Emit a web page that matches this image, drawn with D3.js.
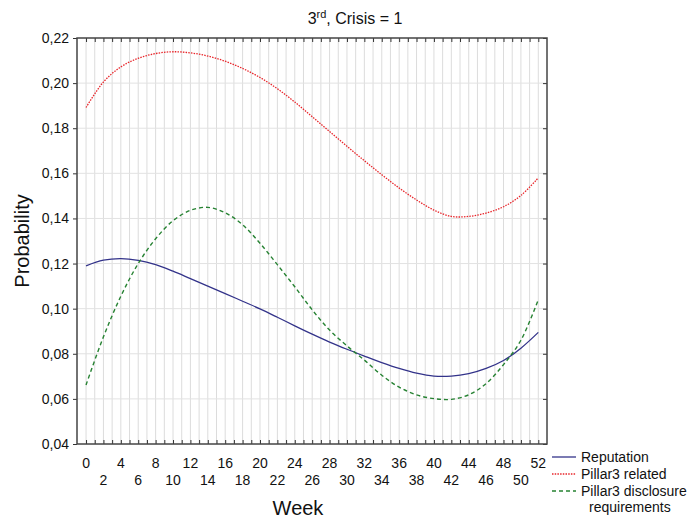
<!DOCTYPE html>
<html lang="en">
<head>
    <meta charset="UTF-8">
    <title>3rd, Crisis = 1</title>
    <style>
        * { margin: 0; padding: 0; }
        body { background: #fff; width: 693px; height: 521px; overflow: hidden; }
        svg text { font-family: "Liberation Sans", Arial, sans-serif; fill: #111; }
    </style>
</head>
<body>
<div id="chart"></div>
<script src="https://cdn.jsdelivr.net/npm/d3@7"></script>
<script>
    var weeks = [0, 2, 4, 6, 8, 10, 12, 14, 16, 18, 20, 22, 24, 26, 28, 30, 32, 34, 36, 38, 40, 42, 44, 46, 48, 50, 52];
    var reputation = [0.1190, 0.1215, 0.1222, 0.1214, 0.1195, 0.1166, 0.1133, 0.1100, 0.1067, 0.1033, 0.0999, 0.0962, 0.0924, 0.0887, 0.0852, 0.0820, 0.0790, 0.0761, 0.0735, 0.0714, 0.0701, 0.0701, 0.0712, 0.0735, 0.0770, 0.0825, 0.0895];
    var pillar3Related = [0.1892, 0.2005, 0.2072, 0.2110, 0.2131, 0.2139, 0.2134, 0.2120, 0.2097, 0.2065, 0.2025, 0.1975, 0.1916, 0.1851, 0.1785, 0.1720, 0.1656, 0.1594, 0.1535, 0.1482, 0.1437, 0.1409, 0.1409, 0.1424, 0.1452, 0.1502, 0.1580];
    var pillar3Disclosure = [0.0662, 0.0875, 0.1055, 0.1200, 0.1310, 0.1390, 0.1436, 0.1449, 0.1425, 0.1372, 0.1290, 0.1195, 0.1097, 0.0995, 0.0905, 0.0835, 0.0772, 0.0705, 0.0652, 0.0618, 0.0601, 0.0598, 0.0618, 0.0668, 0.0752, 0.0860, 0.1040];
    var seriesNames = ["Reputation", "Pillar3 related", "Pillar3 disclosure requirements"];
    var yTicks = [0.04, 0.06, 0.08, 0.10, 0.12, 0.14, 0.16, 0.18, 0.20, 0.22];

    var W = 693, H = 521;
    var plotLeft = 77, plotTop = 38, plotRight = 547, plotBottom = 444;

    var svg = d3.select("#chart").append("svg").attr("width", W).attr("height", H);

    var x = d3.scaleLinear().domain([-1.04, 53]).range([plotLeft, plotRight]);
    var y = d3.scaleLinear().domain([0.04, 0.22]).range([plotBottom, plotTop]);

    var allWeeks = d3.range(0, 53);

    /* grid */
    var grid = svg.append("g");
    grid.selectAll(".vg").data(allWeeks).enter().append("line")
        .attr("x1", function (d) { return x(d); }).attr("x2", function (d) { return x(d); })
        .attr("y1", plotTop).attr("y2", plotBottom)
        .attr("stroke", "#dcdcdc").attr("stroke-width", 1);
    grid.selectAll(".hg").data(yTicks.slice(1, -1)).enter().append("line")
        .attr("x1", plotLeft).attr("x2", plotRight)
        .attr("y1", function (d) { return y(d); }).attr("y2", function (d) { return y(d); })
        .attr("stroke", "#e2e2e2").attr("stroke-width", 1);

    /* axes */
    var fmt = function (d) { return d3.format(".2f")(d).replace(".", ","); };
    svg.append("g").attr("transform", "translate(" + plotLeft + ",0)")
        .call(d3.axisLeft(y).tickValues(yTicks).tickFormat(fmt).tickSize(4).tickPadding(4))
        .call(function (g) {
            g.select(".domain").remove();
            g.selectAll("text").style("font-size", "14px").attr("fill", "#111");
            g.selectAll("line").attr("stroke", "#333");
        });
    svg.append("g").attr("transform", "translate(" + plotRight + ",0)")
        .call(d3.axisLeft(y).tickValues(yTicks).tickFormat("").tickSize(4))
        .call(function (g) { g.select(".domain").remove(); g.selectAll("line").attr("stroke", "#333"); });
    svg.append("g").attr("transform", "translate(0," + plotTop + ")")
        .call(d3.axisBottom(x).tickValues(allWeeks).tickFormat("").tickSize(4))
        .call(function (g) { g.select(".domain").remove(); g.selectAll("line").attr("stroke", "#333"); });
    svg.append("g").attr("transform", "translate(0," + plotBottom + ")")
        .call(d3.axisTop(x).tickValues(allWeeks).tickFormat("").tickSize(4))
        .call(function (g) { g.select(".domain").remove(); g.selectAll("line").attr("stroke", "#333"); });

    /* week labels in two staggered rows */
    var evenWeeks = allWeeks.filter(function (d) { return d % 2 === 0; });
    svg.append("g").selectAll("text").data(evenWeeks).enter().append("text")
        .attr("x", function (d) { return x(d); })
        .attr("y", function (d) { return d % 4 === 0 ? 468 : 485; })
        .attr("text-anchor", "middle")
        .style("font-size", "14px")
        .text(function (d) { return d; });

    svg.append("rect").attr("x", plotLeft).attr("y", plotTop)
        .attr("width", plotRight - plotLeft).attr("height", plotBottom - plotTop)
        .attr("fill", "none").attr("stroke", "#444").attr("stroke-width", 1.5);

    /* curves */
    var line = d3.line()
        .x(function (d) { return x(d[0]); })
        .y(function (d) { return y(d[1]); })
        .curve(d3.curveCatmullRom.alpha(0.5));
    var styles = [
        { color: "#33338a", dash: null, width: 1.3 },
        { color: "#e8262b", dash: "1.5,1.2", width: 1.3 },
        { color: "#268232", dash: "4,3", width: 1.4 }
    ];
    [reputation, pillar3Related, pillar3Disclosure].forEach(function (vals, i) {
        svg.append("path")
            .datum(weeks.map(function (w, j) { return [w, vals[j]]; }))
            .attr("d", line)
            .attr("fill", "none")
            .attr("stroke", styles[i].color)
            .attr("stroke-width", styles[i].width)
            .attr("stroke-dasharray", styles[i].dash);
    });

    /* titles */
    var title = svg.append("text").attr("x", 355).attr("y", 24).attr("text-anchor", "middle").style("font-size", "16px");
    title.append("tspan").text("3");
    title.append("tspan").attr("dy", -6).style("font-size", "11px").text("rd");
    title.append("tspan").attr("dy", 6).text(", Crisis = 1");

    svg.append("text").attr("x", 298).attr("y", 515).attr("text-anchor", "middle")
        .style("font-size", "20px").text("Week");
    svg.append("text").attr("transform", "translate(29,241) rotate(-90)").attr("text-anchor", "middle")
        .style("font-size", "20px").text("Probability");

    /* legend */
    var legend = svg.append("g");
    var rows = [457, 474, 491];
    seriesNames.forEach(function (name, i) {
        legend.append("line")
            .attr("x1", 552).attr("x2", 576)
            .attr("y1", rows[i]).attr("y2", rows[i])
            .attr("stroke", styles[i].color)
            .attr("stroke-width", styles[i].width)
            .attr("stroke-dasharray", styles[i].dash);
    });
    legend.append("text").attr("x", 581).attr("y", 462).style("font-size", "14px").text(seriesNames[0]);
    legend.append("text").attr("x", 581).attr("y", 479).style("font-size", "14px").text(seriesNames[1]);
    legend.append("text").attr("x", 581).attr("y", 496).style("font-size", "14px").text("Pillar3 disclosure");
    legend.append("text").attr("x", 589).attr("y", 512).style("font-size", "14px").text("requirements");
</script>
</body>
</html>
